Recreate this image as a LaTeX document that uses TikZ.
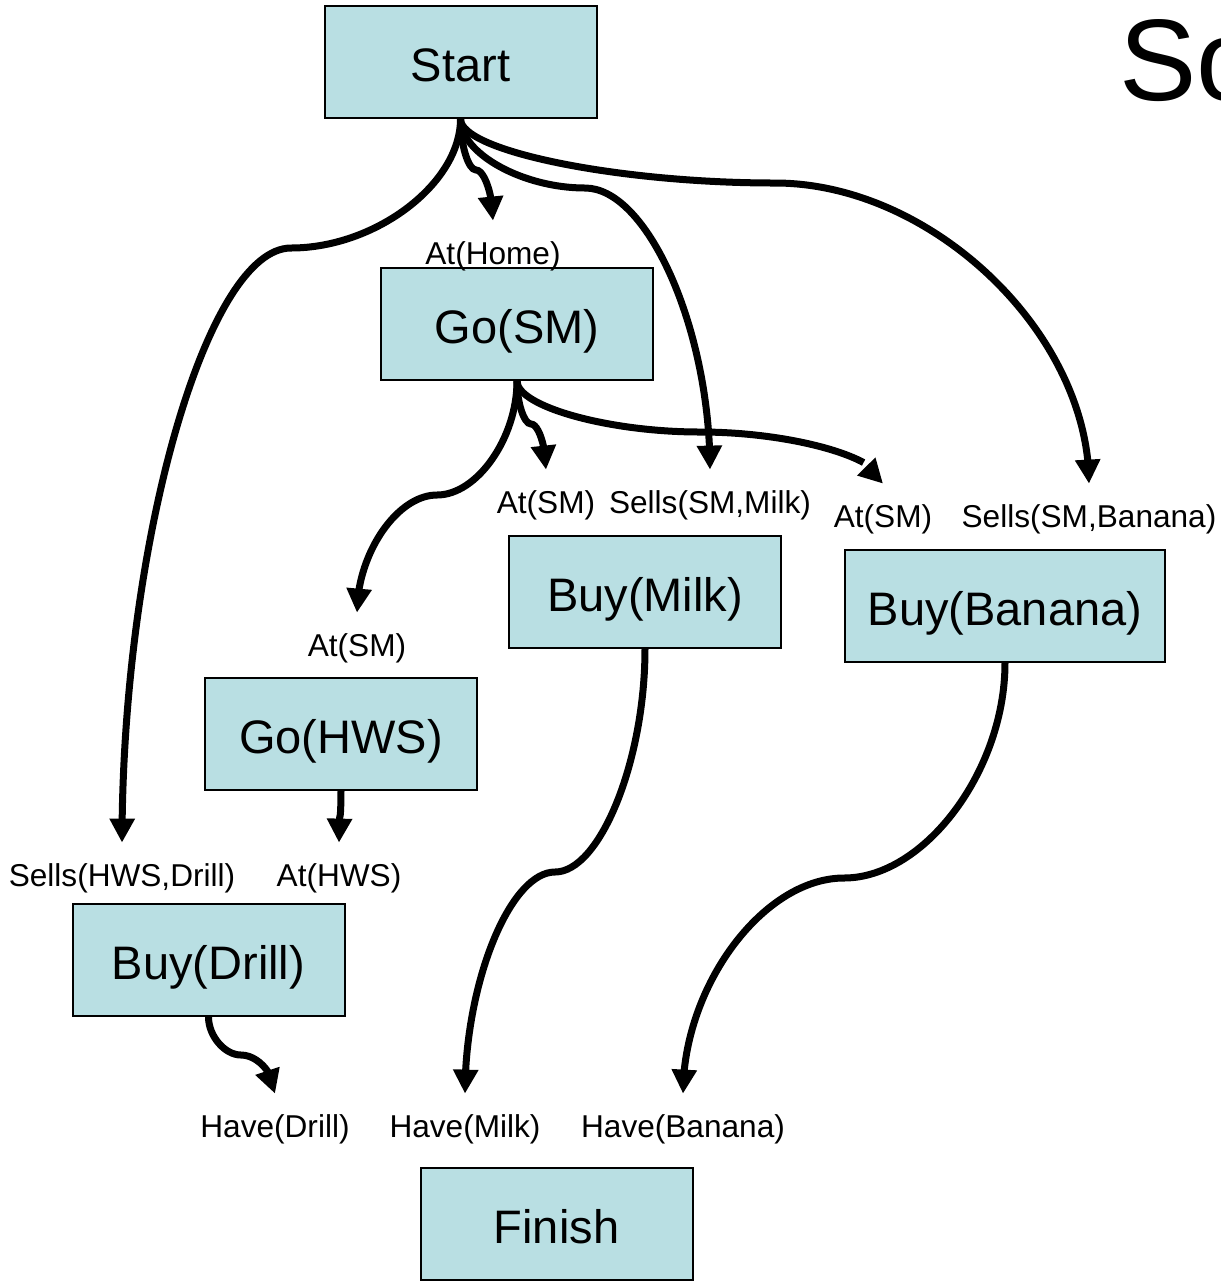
\documentclass[tikz,border=0pt]{standalone}
\usepackage{fontspec}
\setmainfont{Liberation Sans}
\usepackage{tikz}
\usetikzlibrary{arrows.meta, bending, calc}
\definecolor{actfill}{HTML}{B9DFE3}

\begin{document}
\begin{tikzpicture}[
  x=0.5pt, y=-0.5pt,
  act/.style={draw=black, line width=1pt, fill=actfill, inner sep=0pt,
    minimum width=136pt, minimum height=56pt,
    text height=19.5pt, text depth=0pt,
    font=\fontsize{23.5pt}{28pt}\selectfont},
  cond/.style={anchor=base, inner xsep=0pt, inner ysep=10pt,
    text height=11.5pt, text depth=3.5pt,
    font=\fontsize{15.8pt}{19pt}\selectfont},
  link/.style={line width=3.5pt,
    -{Triangle[length=12pt, width=12pt, flex]}}
]
  \useasboundingbox (0,0) rectangle (1221,1282);

  % Actions
  \node[act] (start)  at (460.5, 62)  {Start};
  \node[act] (gosm)   at (517, 324)   {Go(SM)};
  \node[act] (buymilk) at (645, 592)  {Buy(Milk)};
  \node[act, minimum width=160pt] (buybanana) at (1005, 606) {Buy(Banana)};
  \node[act] (gohws)  at (341, 734)   {Go(HWS)};
  \node[act] (buydrill) at (208.5, 960) {Buy(Drill)};
  \node[act] (finish) at (556.5, 1224) {Finish};

  % Preconditions
  \node[cond] (athome)   at (493, 264)  {At(Home)};
  \node[cond] (atsmA)    at (546, 513)  {At(SM)};
  \node[cond] (sellsmilk) at (710, 513) {Sells(SM,Milk)};
  \node[cond] (atsmB)    at (883, 527)  {At(SM)};
  \node[cond] (sellsban) at (1089, 527) {Sells(SM,Banana)};
  \node[cond] (atsmC)    at (357, 656)  {At(SM)};
  \node[cond] (sellsdrill) at (122, 886) {Sells(HWS,Drill)};
  \node[cond] (athws)    at (339, 886)  {At(HWS)};
  \node[cond] (havedrill) at (275, 1137) {Have(Drill)};
  \node[cond] (havemilk) at (465, 1137) {Have(Milk)};
  \node[cond] (haveban)  at (683, 1137) {Have(Banana)};

  % Bends of the links
  \coordinate (m1)  at (476, 170);
  \coordinate (m2)  at (291, 248);
  \coordinate (m3)  at (585, 188);
  \coordinate (m4)  at (775, 183);
  \coordinate (m5)  at (531, 424);
  \coordinate (m6)  at (700, 432);
  \coordinate (m7)  at (437, 495);
  \coordinate (m8)  at (340, 816);
  \coordinate (m9)  at (555, 872);
  \coordinate (m10) at (844, 878);
  \coordinate (m11) at (241, 1055);

  % Links
  \foreach \a/\m/\b in {start/m1/athome, start/m2/sellsdrill,
      start/m3/sellsmilk, start/m4/sellsban, gosm/m5/atsmA,
      gosm/m6/atsmB, gosm/m7/atsmC, gohws/m8/athws,
      buymilk/m9/havemilk, buybanana/m10/haveban,
      buydrill/m11/havedrill} {
    \draw[link] let \p1=(\a.south), \p2=(\m), \p3=(\b.north) in
      (\p1) .. controls (\x1,{(\y1+\y2)/2}) and ({(\x1+\x2)/2},\y2) .. (\p2)
            .. controls ({(\x2+\x3)/2},\y2) and (\x3,{(\y2+\y3)/2}) .. (\p3);
  }

  % Title, cut by the page edge
  \node[anchor=base west, inner sep=0pt,
    font=\fontsize{58pt}{70pt}\selectfont] (title) at (1119, 100) {So};
\end{tikzpicture}
\end{document}
